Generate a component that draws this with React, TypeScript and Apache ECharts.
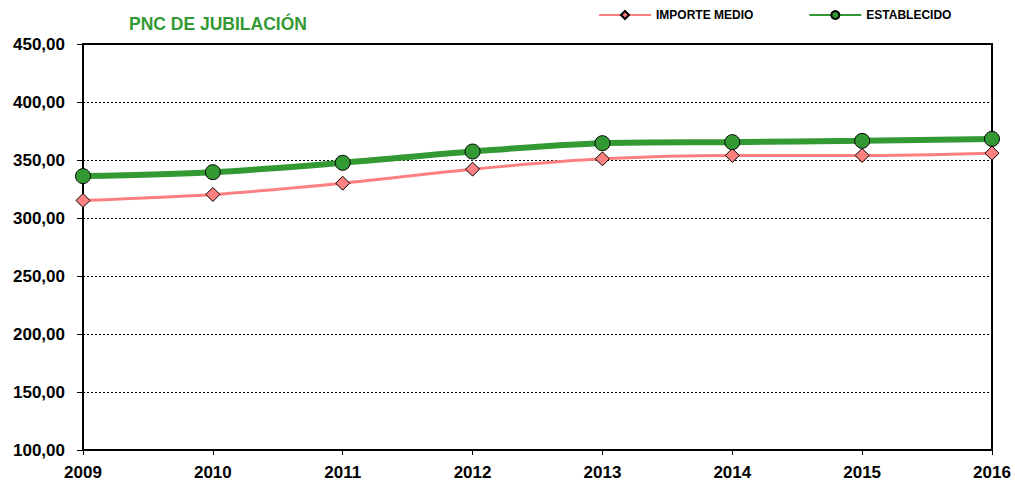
import React, { useEffect, useRef } from "react";
import * as echarts from "echarts";

const years = ["2009", "2010", "2011", "2012", "2013", "2014", "2015", "2016"];
const importeMedio = [315.1, 320.3, 330.0, 342.1, 351.0, 353.9, 353.9, 355.9];
const establecido = [336.1, 339.5, 347.6, 357.3, 364.5, 365.4, 366.5, 368.2];
const title = "PNC DE JUBILACIÓN";
const FONT = "'Liberation Sans Narrow', 'Liberation Sans', Arial, sans-serif";

export default function App() {
  const ref = useRef<HTMLDivElement>(null);
  useEffect(() => {
    if (!ref.current) return;
    const chart = echarts.init(ref.current, null, { renderer: "svg" });
    chart.setOption({
      animation: false,
      backgroundColor: "#fff",
      title: {
        text: title,
        left: 124,
        top: 10,
        textStyle: { color: "#339933", fontSize: 17.5, fontWeight: "bold", fontFamily: FONT },
      },
      legend: {
        top: 4,
        left: 593,
        itemGap: 55,
        itemWidth: 52,
        itemHeight: 10,
        textStyle: { color: "#000", fontSize: 12, fontWeight: "bold", fontFamily: FONT },
        data: ["IMPORTE MEDIO", "ESTABLECIDO"],
      },
      grid: {
        left: 83,
        right: 23,
        top: 44,
        bottom: 35,
        show: true,
        borderColor: "#000",
        borderWidth: 2,
        backgroundColor: "transparent",
      },
      xAxis: {
        type: "category",
        data: years,
        boundaryGap: false,
        axisLine: { lineStyle: { color: "#000", width: 2 } },
        axisTick: { show: true, length: 5, lineStyle: { color: "#000" } },
        axisLabel: { color: "#000", fontSize: 17, fontWeight: "bold", fontFamily: FONT, margin: 14 },
      },
      yAxis: {
        type: "value",
        min: 100,
        max: 450,
        interval: 50,
        axisLine: { show: true, lineStyle: { color: "#000", width: 2 } },
        axisTick: { show: true, length: 6, lineStyle: { color: "#000" } },
        splitLine: { show: true, lineStyle: { color: "#000", width: 1, type: [2, 2] } },
        axisLabel: {
          color: "#000",
          fontSize: 17,
          fontWeight: "bold",
          fontFamily: FONT,
          margin: 18,
          formatter: (v: number) => v.toFixed(2).replace(".", ","),
        },
      },
      series: [
        {
          name: "IMPORTE MEDIO",
          type: "line",
          data: importeMedio,
          smooth: 0.3,
          symbol: "diamond",
          symbolSize: 14,
          lineStyle: { color: "#ff8080", width: 3 },
          itemStyle: { color: "#ff8080", borderColor: "#000", borderWidth: 1 },
          z: 2,
        },
        {
          name: "ESTABLECIDO",
          type: "line",
          data: establecido,
          smooth: 0.3,
          symbol: "circle",
          symbolSize: 15,
          lineStyle: { color: "#339933", width: 6 },
          itemStyle: { color: "#339933", borderColor: "#000", borderWidth: 1 },
          z: 3,
        },
      ],
    });
    return () => chart.dispose();
  }, []);
  return (
    <div
      ref={ref}
      style={{ position: "absolute", left: 0, top: 0, width: 1015, height: 485 }}
    />
  );
}
